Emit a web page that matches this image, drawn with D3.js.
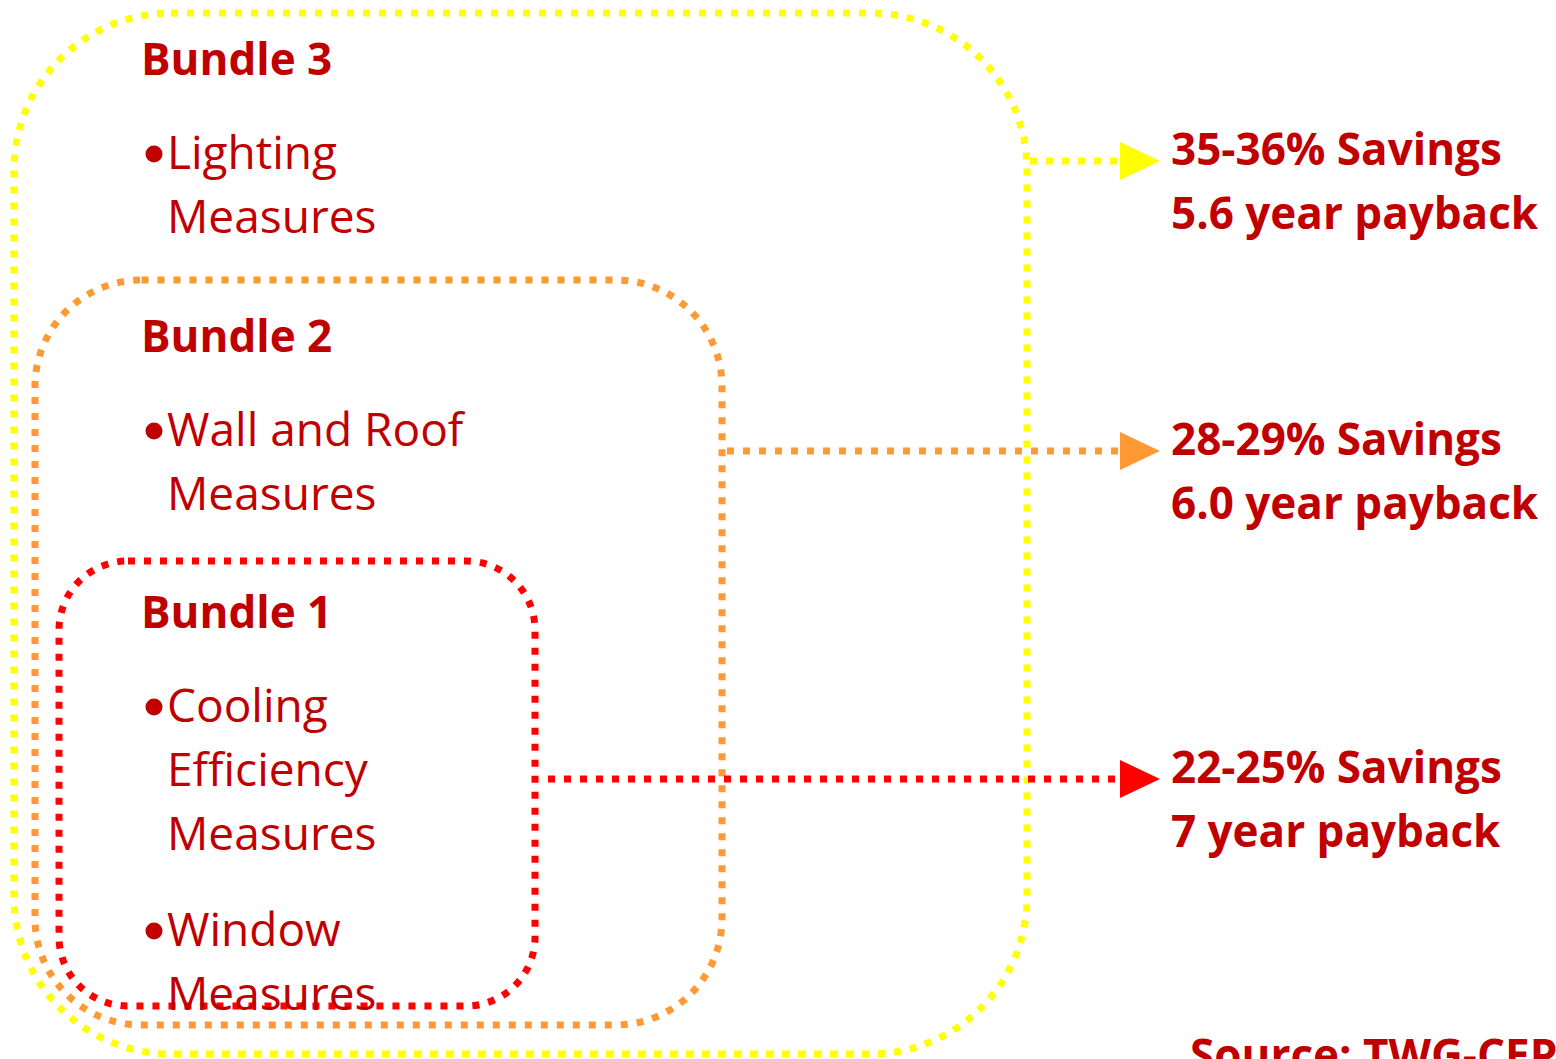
<!DOCTYPE html>
<html>
<head>
    <meta charset="UTF-8">
    <title>Energy Efficiency Bundles</title>
    <script src="https://d3js.org/d3.v7.min.js"></script>
    <style>
        body {
            margin: 0;
            padding: 0;
            background: #fff;
            overflow: hidden;
        }
        text {
            font-family: "Open Sans", "Noto Sans", sans-serif;
            fill: #C00000;
        }
        .title, .result {
            font-weight: bold;
        }
    </style>
</head>
<body>
    <svg id="chart" width="1556" height="1059"></svg>

    <script>
        // bundle data (outer to inner)
        const bundles = ["Bundle 3", "Bundle 2", "Bundle 1"];
        const measures = [
            [["Lighting", "Measures"]],
            [["Wall and Roof", "Measures"]],
            [["Cooling", "Efficiency", "Measures"], ["Window", "Measures"]]
        ];
        const savings = ["35-36% Savings", "28-29% Savings", "22-25% Savings"];
        const payback = ["5.6 year payback", "6.0 year payback", "7 year payback"];
        const colors = ["#FFFF00", "#FF9933", "#FF0000"];
        const source = "Source: TWG-CEPT";

        // layout for each box: left, top, right, bottom
        const boxes = [
            { x0: 14, y0: 13, x1: 1027, y1: 1054 },
            { x0: 35, y0: 280, x1: 722, y1: 1025 },
            { x0: 59, y0: 561, x1: 535, y1: 1006 }
        ];
        const arrowY = [161, 451, 779];
        const titleY = [75, 352, 628];
        const lineStart = [1030, 727, 548];

        const svg = d3.select("#chart");
        const dash = "7,9";

        const data = bundles.map((b, i) => ({
            name: b, items: measures[i], savings: savings[i], payback: payback[i],
            color: colors[i], box: boxes[i], ay: arrowY[i], ty: titleY[i], lx: lineStart[i]
        }));

        // dotted rounded boxes
        svg.selectAll(".box")
            .data(data)
            .enter()
            .append("rect")
            .attr("class", "box")
            .attr("x", d => d.box.x0)
            .attr("y", d => d.box.y0)
            .attr("width", d => d.box.x1 - d.box.x0)
            .attr("height", d => d.box.y1 - d.box.y0)
            .attr("rx", d => 0.155 * Math.min(d.box.x1 - d.box.x0, d.box.y1 - d.box.y0))
            .attr("fill", "none")
            .attr("stroke", d => d.color)
            .attr("stroke-width", 7)
            .attr("stroke-dasharray", dash);

        // dotted connectors
        const arrowX = 1120, tipX = 1160;
        svg.selectAll(".link")
            .data(data)
            .enter()
            .append("line")
            .attr("class", "link")
            .attr("x1", d => d.lx)
            .attr("x2", arrowX)
            .attr("y1", d => d.ay)
            .attr("y2", d => d.ay)
            .attr("stroke", d => d.color)
            .attr("stroke-width", 7)
            .attr("stroke-dasharray", dash);

        svg.selectAll(".head")
            .data(data)
            .enter()
            .append("path")
            .attr("class", "head")
            .attr("d", d => `M${arrowX},${d.ay - 19}L${tipX},${d.ay}L${arrowX},${d.ay + 19}Z`)
            .attr("fill", d => d.color);

        // bundle titles and bullet lists
        const fs = 46, fsBold = 44;
        data.forEach(d => {
            svg.append("text")
                .attr("class", "title")
                .attr("x", 141)
                .attr("y", d.ty)
                .attr("font-size", fsBold)
                .text(d.name);

            let y = d.ty + 94;
            d.items.forEach(lines => {
                svg.append("circle")
                    .attr("cx", 154)
                    .attr("cy", y - 15)
                    .attr("r", 8.5)
                    .attr("fill", "#C00000");
                lines.forEach((ln, k) => {
                    svg.append("text")
                        .attr("x", 167)
                        .attr("y", y + k * 64)
                        .attr("font-size", fs)
                        .text(ln);
                });
                y += lines.length * 64 + 32;
            });

            svg.append("text")
                .attr("class", "result")
                .attr("x", 1171)
                .attr("y", d.ay + 4)
                .attr("font-size", fsBold)
                .text(d.savings);
            svg.append("text")
                .attr("class", "result")
                .attr("x", 1171)
                .attr("y", d.ay + 68)
                .attr("font-size", fsBold)
                .text(d.payback);
        });

        // source note, partly below the frame as in the original slide
        svg.append("text")
            .attr("class", "result")
            .attr("x", 1190)
            .attr("y", 1071)
            .attr("font-size", fsBold)
            .text(source);
    </script>
</body>
</html>
